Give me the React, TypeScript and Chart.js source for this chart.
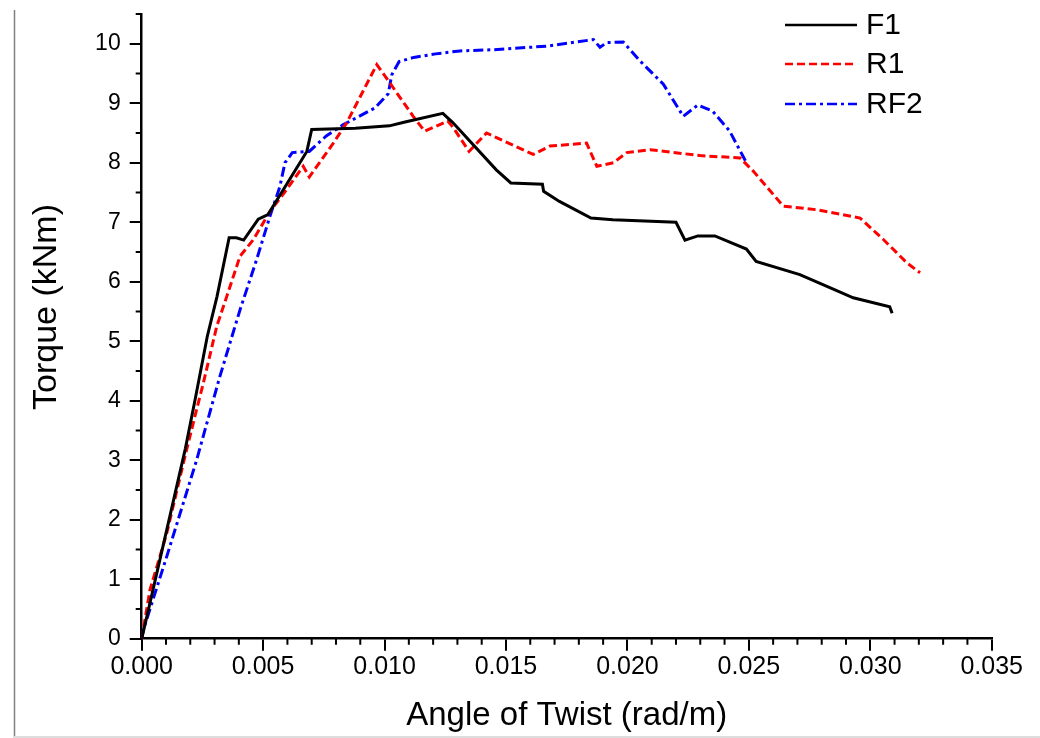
import React, { useEffect, useRef } from 'react';
import { Chart, registerables } from 'chart.js';

Chart.register(...registerables);

const seriesNames = ['F1', 'R1', 'RF2'];

const f1Angle = [0, 0.0002, 0.0018, 0.0022, 0.0027, 0.0031, 0.0036, 0.0039, 0.0042, 0.0048, 0.0052, 0.0068, 0.007, 0.0088, 0.0102, 0.0108, 0.0124, 0.0128, 0.0146, 0.0152, 0.0165, 0.01655, 0.0172, 0.0185, 0.0194, 0.022, 0.02237, 0.0229, 0.0236, 0.0249, 0.0253, 0.0271, 0.0285, 0.0293, 0.0308, 0.0309];
const f1Torque = [0, 0.35, 3.2, 4.02, 5.08, 5.75, 6.74, 6.74, 6.7, 7.05, 7.13, 8.19, 8.56, 8.58, 8.62, 8.68, 8.83, 8.68, 7.88, 7.66, 7.64, 7.52, 7.35, 7.07, 7.04, 7.0, 6.7, 6.77, 6.77, 6.55, 6.34, 6.12, 5.87, 5.73, 5.58, 5.47];

const r1Angle = [0, 0.00034, 0.00103, 0.00178, 0.00226, 0.00254, 0.00309, 0.0035, 0.00405, 0.0046, 0.00528, 0.00597, 0.00665, 0.0069, 0.00789, 0.00844, 0.00968, 0.01022, 0.01118, 0.01165, 0.0126, 0.01283, 0.01348, 0.0142, 0.01612, 0.01681, 0.01832, 0.01874, 0.01942, 0.01997, 0.02093, 0.02299, 0.02464, 0.02518, 0.02642, 0.02779, 0.02958, 0.03054, 0.0315, 0.03205];
const r1Torque = [0, 0.82, 1.77, 3.06, 3.85, 4.3, 5.25, 5.75, 6.43, 6.71, 7.18, 7.55, 7.94, 7.76, 8.33, 8.67, 9.65, 9.34, 8.78, 8.53, 8.7, 8.59, 8.19, 8.5, 8.14, 8.28, 8.33, 7.94, 8.0, 8.17, 8.22, 8.12, 8.08, 7.86, 7.27, 7.21, 7.07, 6.71, 6.32, 6.15];

const rf2Angle = [0, 0.00007, 0.00103, 0.00226, 0.00322, 0.00405, 0.00473, 0.00528, 0.00569, 0.0059, 0.0062, 0.0069, 0.0076, 0.0083, 0.0096, 0.01015, 0.0103, 0.0106, 0.0112, 0.0121, 0.0131, 0.0145, 0.0167, 0.0186, 0.01887, 0.01915, 0.01983, 0.02052, 0.02148, 0.0223, 0.0229, 0.0235, 0.0242, 0.0249];
const rf2Torque = [0, 0.15, 1.38, 3.0, 4.41, 5.53, 6.37, 7.1, 7.6, 8.0, 8.17, 8.19, 8.45, 8.64, 8.92, 9.16, 9.48, 9.7, 9.77, 9.83, 9.88, 9.9, 9.96, 10.07, 9.94, 10.02, 10.03, 9.71, 9.32, 8.78, 8.97, 8.87, 8.54, 8.0];

const xTickValues = [0, 0.005, 0.01, 0.015, 0.02, 0.025, 0.03, 0.035];
const xTickLabels = ['0.000', '0.005', '0.010', '0.015', '0.020', '0.025', '0.030', '0.035'];
const yTickValues = [0, 1, 2, 3, 4, 5, 6, 7, 8, 9, 10];
const xMinorValues = [0.001, 0.002, 0.003, 0.004, 0.006, 0.007, 0.008, 0.009, 0.011, 0.012, 0.013, 0.014, 0.016, 0.017, 0.018, 0.019, 0.021, 0.022, 0.023, 0.024, 0.026, 0.027, 0.028, 0.029, 0.031, 0.032, 0.033, 0.034];
const yMinorValues = [0.5, 1.5, 2.5, 3.5, 4.5, 5.5, 6.5, 7.5, 8.5, 9.5, 10.5];
const yTitle = 'Torque (kNm)';
const xTitle = 'Angle of Twist (rad/m)';

const FONT = '"Liberation Sans", Arial, sans-serif';

const zip = (xs: number[], ys: number[]) => xs.map((x, i) => ({ x, y: ys[i] }));

const styles = [
  { color: '#000000', dash: [] as number[] },
  { color: '#ff0000', dash: [8, 4] },
  { color: '#0000ff', dash: [10, 4, 3, 4] },
];

const decorPlugin = {
  id: 'decor',
  beforeDraw(chart: any) {
    const ctx = chart.ctx;
    ctx.save();
    ctx.strokeStyle = '#808080';
    ctx.lineWidth = 1.5;
    ctx.beginPath();
    ctx.moveTo(14.5, 10);
    ctx.lineTo(14.5, 738);
    ctx.stroke();
    ctx.strokeStyle = '#dddddd';
    ctx.lineWidth = 2;
    ctx.beginPath();
    ctx.moveTo(14, 737);
    ctx.lineTo(1040, 737);
    ctx.stroke();
    ctx.restore();
  },
  afterDraw(chart: any) {
    const ctx = chart.ctx;
    const xs = chart.scales.x;
    const ys = chart.scales.y;
    const area = chart.chartArea;
    ctx.save();
    ctx.strokeStyle = '#000';
    ctx.lineWidth = 2;
    ctx.setLineDash([]);
    ctx.beginPath();
    xMinorValues.forEach((v) => {
      const px = xs.getPixelForValue(v);
      ctx.moveTo(px, area.bottom);
      ctx.lineTo(px, area.bottom + 6);
    });
    yMinorValues.forEach((v) => {
      const py = ys.getPixelForValue(v);
      ctx.moveTo(area.left, py);
      ctx.lineTo(area.left - 6, py);
    });
    ctx.stroke();

    // y axis title
    ctx.save();
    ctx.translate(47, 307);
    ctx.rotate(-Math.PI / 2);
    ctx.fillStyle = '#000';
    ctx.font = `34px ${FONT}`;
    ctx.textAlign = 'center';
    ctx.textBaseline = 'middle';
    ctx.fillText(yTitle, 0, 0);
    ctx.restore();

    // legend
    const rows = [25, 64, 104];
    chart.data.datasets.forEach((ds: any, i: number) => {
      ctx.strokeStyle = ds.borderColor;
      ctx.lineWidth = 2.5;
      ctx.setLineDash(ds.borderDash || []);
      ctx.beginPath();
      ctx.moveTo(785, rows[i]);
      ctx.lineTo(857, rows[i]);
      ctx.stroke();
      ctx.setLineDash([]);
      ctx.fillStyle = '#000';
      ctx.font = `30px ${FONT}`;
      ctx.textBaseline = 'middle';
      ctx.textAlign = 'left';
      ctx.fillText(ds.label, 866, rows[i] + 1);
    });
    ctx.restore();
  },
};

export default function App() {
  const ref = useRef<HTMLCanvasElement | null>(null);

  useEffect(() => {
    if (!ref.current) return;
    const data = [zip(f1Angle, f1Torque), zip(r1Angle, r1Torque), zip(rf2Angle, rf2Torque)];
    const chart = new Chart(ref.current, {
      type: 'scatter',
      data: {
        datasets: seriesNames.map((name, i) => ({
          label: name,
          data: data[i],
          showLine: true,
          borderColor: styles[i].color,
          backgroundColor: styles[i].color,
          borderWidth: 3,
          borderDash: styles[i].dash,
          pointRadius: 0,
          pointHoverRadius: 0,
          tension: 0,
          fill: false,
        })),
      },
      options: {
        responsive: false,
        animation: false,
        devicePixelRatio: 1,
        layout: { padding: { top: 14, right: 48.3, left: 0, bottom: 0 } },
        plugins: { legend: { display: false }, tooltip: { enabled: false } },
        scales: {
          x: {
            type: 'linear',
            min: 0,
            max: 0.035,
            afterBuildTicks: (s: any) => {
              s.ticks = xTickValues.map((v) => ({ value: v }));
            },
            afterFit: (s: any) => {
              s.height = 738 - 638.7;
              s.paddingLeft = 0;
              s.paddingRight = 0;
            },
            ticks: {
              callback: (_v: any, idx: number) => xTickLabels[idx],
              font: { family: FONT, size: 25 },
              color: '#000',
              padding: 1,
              maxRotation: 0,
              autoSkip: false,
            },
            grid: { drawOnChartArea: false, drawTicks: true, tickLength: 12, color: '#000', lineWidth: 2 },
            border: { display: true, color: '#000', width: 2.5 },
            title: {
              display: true,
              text: xTitle,
              color: '#000',
              font: { family: FONT, size: 33, lineHeight: 1 },
              padding: { top: 0, bottom: 5.5 },
            },
          },
          y: {
            type: 'linear',
            min: 0,
            max: 10.5,
            afterBuildTicks: (s: any) => {
              s.ticks = yTickValues.map((v) => ({ value: v }));
            },
            afterFit: (s: any) => {
              s.width = 141.7;
              s.paddingTop = 0;
              s.paddingBottom = 0;
            },
            ticks: {
              callback: (v: any) => String(v),
              font: { family: FONT, size: 23 },
              color: '#000',
              padding: 9,
              autoSkip: false,
            },
            grid: { drawOnChartArea: false, drawTicks: true, tickLength: 12, color: '#000', lineWidth: 2 },
            border: { display: true, color: '#000', width: 2.5 },
            title: { display: false, text: yTitle },
          },
        },
      },
      plugins: [decorPlugin],
    });
    return () => chart.destroy();
  }, []);

  return (
    <div style={{ position: 'absolute', left: 0, top: 0, width: 1040, height: 738, background: '#fff' }}>
      <canvas ref={ref} width={1040} height={738} style={{ display: 'block', width: 1040, height: 738 }} />
    </div>
  );
}
